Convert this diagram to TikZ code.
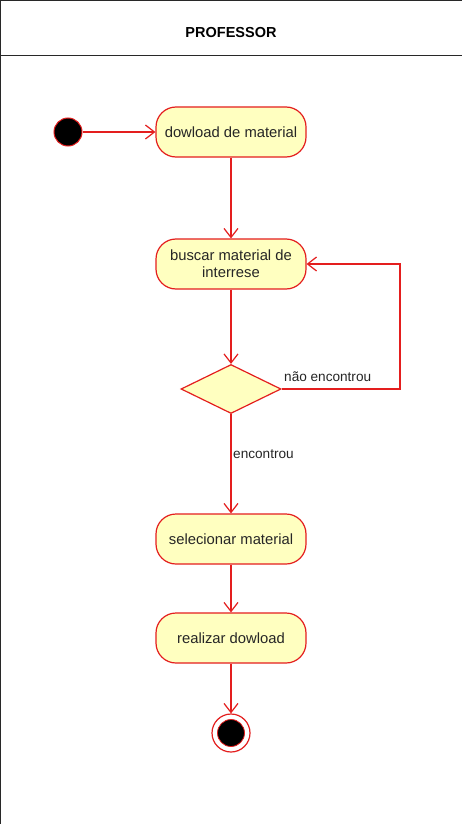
\documentclass[tikz,border=0pt]{standalone}
\usepackage{fontspec}
\setmainfont{Liberation Sans}
\usetikzlibrary{arrows.meta,shapes.geometric}
\definecolor{umlred}{RGB}{228,30,30}
\definecolor{umlfill}{RGB}{255,255,192}
\definecolor{framegray}{RGB}{40,40,40}
\tikzset{
  act/.style={draw=umlred, fill=umlfill, line width=1.2pt, rounded corners=20pt,
    minimum width=150pt, minimum height=50pt, align=center, inner sep=2pt,
    font=\fontsize{14.8pt}{17pt}\selectfont, text=black!85},
  dec/.style={draw=umlred, fill=umlfill, line width=1.2pt, diamond, aspect=2.04,
    minimum width=100pt, minimum height=49pt, inner sep=0pt},
  startnode/.style={circle, draw=umlred, fill=black, line width=1pt, minimum size=28pt, inner sep=0pt},
  endouter/.style={circle, draw=umlred, fill=white, line width=1.2pt, minimum size=38pt, inner sep=0pt},
  endinner/.style={circle, draw=umlred, fill=black, line width=0.8pt, minimum size=27pt, inner sep=0pt},
  flow/.style={draw=umlred, line width=1.2pt, -{Straight Barb[length=9pt,width=14pt,line width=1.2pt]}},
  guard/.style={font=\fontsize{13.6pt}{15pt}\selectfont, text=black!85, inner sep=0pt},
  frameline/.style={draw=framegray, line width=1pt}
}
\begin{document}
\begin{tikzpicture}[x=1pt,y=-1pt]
\useasboundingbox (0,0) rectangle (462,824);
\fill[white] (0,0) rectangle (462,824);
% swimlane frame
\draw[frameline] (0,1) -- (462,1);
\draw[frameline] (0,56) -- (462,56);
\draw[frameline] (0.5,0) -- (0.5,824);
\node[font=\bfseries\fontsize{14.5pt}{17pt}\selectfont] (title) at (231,33) {PROFESSOR};
% nodes
\node[startnode] (s) at (68,132) {};
\node[act] (a1) at (231,132) {dowload de material};
\node[act] (a2) at (231,264) {buscar material de\\interrese};
\node[dec] (d) at (231,389) {};
\node[act] (a3) at (231,539) {selecionar material};
\node[act] (a4) at (231,638) {realizar dowload};
\node[endouter] (e) at (231,733) {};
\node[endinner] (ei) at (231,733) {};
\coordinate (loopc) at (400,389);
% connectors
\draw[flow] (s) -- (a1);
\draw[flow] (a1) -- (a2);
\draw[flow] (a2) -- (d);
\draw[flow] (d.east) -- (loopc) |- (a2.east);
\draw[flow] (d) -- (a3);
\draw[flow] (a3) -- (a4);
\draw[flow] (a4) -- (e);
% guards
\node[guard, anchor=west] (g1) at (284,377) {não encontrou};
\node[guard, anchor=west] (g2) at (233,454) {encontrou};
\end{tikzpicture}
\end{document}
